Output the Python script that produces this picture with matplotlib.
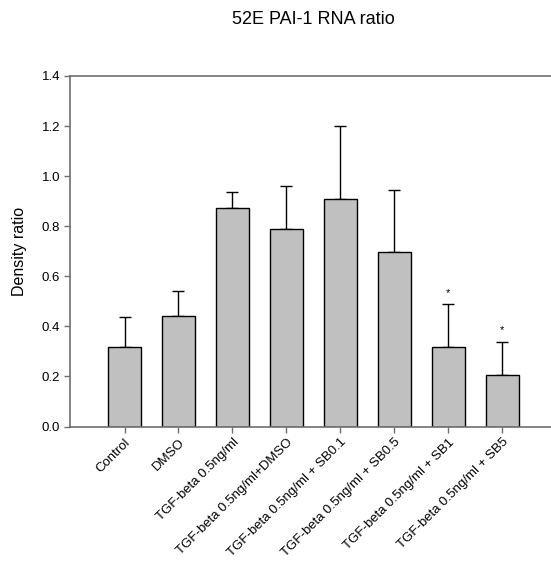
import numpy as np
import matplotlib; matplotlib.use("Agg")
import matplotlib.pyplot as plt
plt.rcParams.update({"font.family": ["Liberation Sans", "DejaVu Sans"]})

grupos = ["Control", "DMSO", "TGF-beta 0.5ng/ml", "TGF-beta 0.5ng/ml+DMSO",
          "TGF-beta 0.5ng/ml + SB0.1", "TGF-beta 0.5ng/ml + SB0.5",
          "TGF-beta 0.5ng/ml + SB1", "TGF-beta 0.5ng/ml + SB5"]
media = [0.318, 0.440, 0.874, 0.787, 0.907, 0.697, 0.316, 0.207]
erro = [0.118, 0.100, 0.061, 0.174, 0.295, 0.248, 0.173, 0.132]
signif = [False, False, False, False, False, False, True, True]

fig = plt.figure(figsize=(5.51, 5.62), dpi=100)
ax = fig.add_axes([0.127, 0.2411, 0.873, 0.6237])
x = np.arange(len(grupos))
ax.bar(x, media, width=0.61, color="#c0c0c0", edgecolor="black", linewidth=1.0, zorder=2)
ax.errorbar(x, media, yerr=[np.zeros(len(erro)), erro], fmt="none", ecolor="black",
            elinewidth=1.0, capsize=4, capthick=1.0, zorder=1)
# asterisco acima da barra de erro
for i, s in enumerate(signif):
    if s:
        ax.text(x[i], media[i] + erro[i] + 0.045, "*", ha="center", va="center", fontsize=8)

ax.set_xlim(-1.01, 7.9)
ax.set_ylim(0, 1.4)
yt = np.arange(0, 1.41, 0.2)
ax.set_yticks(yt)
ax.set_yticklabels([f"{v:.1f}" for v in yt], fontsize=9.5)
ax.set_xticks(x)
ax.set_xticklabels(grupos, rotation=45, ha="right", rotation_mode="anchor", fontsize=9.5)
ax.tick_params(direction="out", length=4, width=1, color="#6e6e6e", pad=3)
for lado in ["left", "bottom", "top"]:
    ax.spines[lado].set_color("#6e6e6e")
    ax.spines[lado].set_linewidth(1.2)
ax.spines["right"].set_visible(False)

fig.text(0.0345, 0.553, "Density ratio", rotation=90, ha="center", va="center", fontsize=11.5)
fig.text(0.568, 0.9573, "52E PAI-1 RNA ratio", ha="center", va="baseline", fontsize=13)

fig.savefig("out.png", dpi=100)
